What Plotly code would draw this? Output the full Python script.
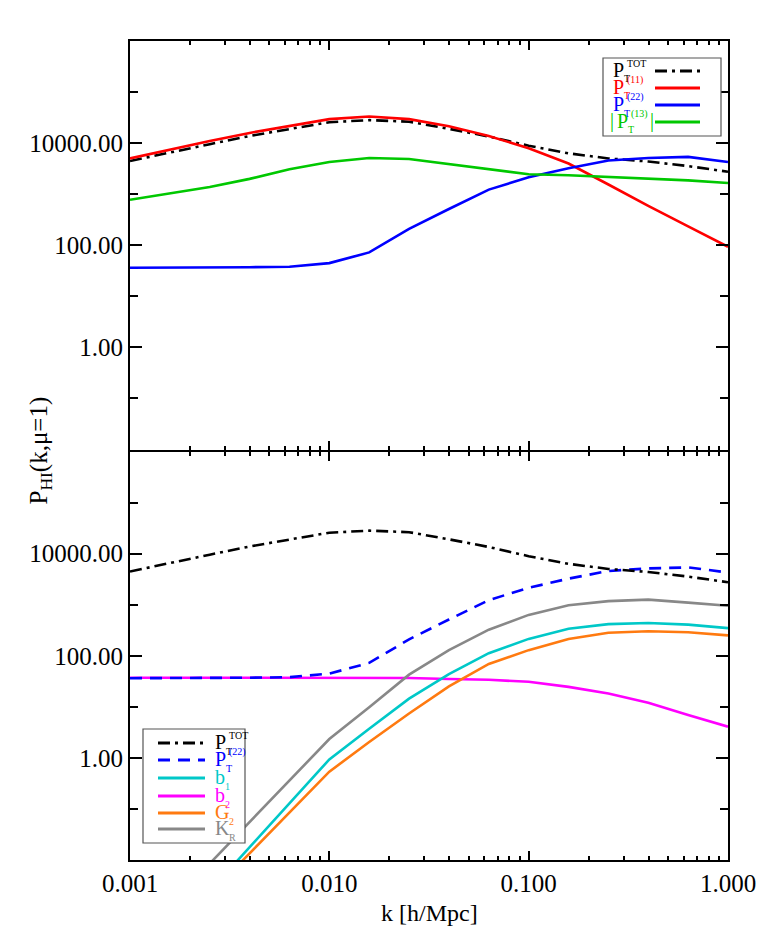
import plotly.graph_objects as go
from plotly.subplots import make_subplots

# ---- data (log10 values) ----
k = [0.001, 0.001585, 0.002512, 0.003981, 0.00631, 0.01, 0.01585, 0.02512,
     0.03981, 0.0631, 0.1, 0.1585, 0.2512, 0.3981, 0.631, 1.0]

log_p_tot = [3.65, 3.82, 3.98, 4.14, 4.28, 4.41, 4.45, 4.42, 4.28, 4.13, 3.95, 3.80, 3.70, 3.64, 3.55, 3.44]
log_p11 = [3.70, 3.875, 4.04, 4.20, 4.34, 4.47, 4.52, 4.47, 4.33, 4.14, 3.90, 3.60, 3.19, 2.77, 2.37, 1.97]
log_p22 = [1.56, 1.56, 1.56, 1.57, 1.58, 1.65, 1.86, 2.32, 2.71, 3.09, 3.33, 3.51, 3.66, 3.71, 3.73, 3.63]
log_p13 = [2.89, 3.01, 3.14, 3.30, 3.49, 3.63, 3.71, 3.69, 3.59, 3.48, 3.39, 3.37, 3.34, 3.30, 3.27, 3.22]

log_b1 = [None, None, -2.61, -1.75, -0.89, -0.03, 0.57, 1.16, 1.64, 2.05, 2.33, 2.53, 2.62, 2.64, 2.61, 2.54]
log_b2 = [1.57, 1.57, 1.57, 1.57, 1.57, 1.57, 1.57, 1.565, 1.545, 1.53, 1.49, 1.39, 1.26, 1.08, 0.84, 0.61]
log_g2 = [None, None, -2.67, -1.87, -1.07, -0.27, 0.31, 0.87, 1.40, 1.84, 2.11, 2.33, 2.45, 2.48, 2.46, 2.40]
log_kr = [None, None, -2.07, -1.25, -0.43, 0.37, 0.99, 1.63, 2.11, 2.51, 2.80, 2.99, 3.07, 3.10, 3.04, 2.98]

x_ticks = [0.001, 0.01, 0.1, 1.0]
x_ticktext = ["0.001", "0.010", "0.100", "1.000"]
y_ticks = [1.0, 100.0, 10000.0]
y_ticktext = ["1.00", "100.00", "10000.00"]
y_minor = [0.1, 10.0, 1000.0, 100000.0]
x_minor = [m * d for d in [0.001, 0.01, 0.1] for m in range(2, 10)]


def lin(vals):
    return [None if v is None else 10 ** v for v in vals]


BLACK = "#000000"
RED = "#ff0000"
BLUE = "#0000ff"
GREEN = "#00c800"
CYAN = "#00c8c8"
MAGENTA = "#ff00ff"
ORANGE = "#ff7a10"
GREY = "#888888"

DASHDOT = "12px,5px,3px,5px"
DASH = "12px,8px"
LW = 2.6

fig = make_subplots(rows=2, cols=1, shared_xaxes=True, vertical_spacing=0)

top = [
    (log_p_tot, BLACK, DASHDOT),
    (log_p11, RED, "solid"),
    (log_p22, BLUE, "solid"),
    (log_p13, GREEN, "solid"),
]
for vals, col, dash in top:
    fig.add_trace(go.Scatter(x=k, y=lin(vals), mode="lines",
                             line=dict(color=col, width=LW, dash=dash),
                             showlegend=False), row=1, col=1)

bottom = [
    (log_b2, MAGENTA, "solid"),
    (log_kr, GREY, "solid"),
    (log_b1, CYAN, "solid"),
    (log_g2, ORANGE, "solid"),
    (log_p22, BLUE, DASH),
    (log_p_tot, BLACK, DASHDOT),
]
for vals, col, dash in bottom:
    fig.add_trace(go.Scatter(x=k, y=lin(vals), mode="lines",
                             line=dict(color=col, width=LW, dash=dash),
                             showlegend=False, connectgaps=False), row=2, col=1)

FONT = "Liberation Serif"
xax = dict(type="log", range=[-3, 0], showline=True, linecolor="black", linewidth=2,
           mirror="ticks", ticks="inside", ticklen=9, tickwidth=2, tickcolor="black",
           tickvals=x_ticks, ticktext=x_ticktext, showgrid=False, zeroline=False,
           minor=dict(tickvals=x_minor, ticklen=4, tickwidth=2, tickcolor="black", ticks="inside", showgrid=False),
           tickfont=dict(family=FONT, size=25, color="black"))
yax = dict(type="log", range=[-2, 6], showline=True, linecolor="black", linewidth=2,
           mirror="ticks", ticks="inside", ticklen=12, tickwidth=2, tickcolor="black",
           tickvals=y_ticks, ticktext=y_ticktext, showgrid=False, zeroline=False,
           minor=dict(tickvals=y_minor, ticklen=8, tickwidth=2, tickcolor="black", ticks="inside", showgrid=False),
           tickfont=dict(family=FONT, size=25, color="black"))

W, H = 767, 944
L, R, T, B = 130, 39, 41, 84
PW, PH = W - L - R, H - T - B

fig.update_xaxes(**xax)
fig.update_xaxes(showticklabels=False, row=1, col=1)
fig.update_yaxes(**yax)
fig.update_yaxes(domain=[0.5 + 1.0 / PH, 1.0], row=1, col=1)
fig.update_yaxes(domain=[0.0, 0.5 - 1.0 / PH], row=2, col=1)


def px(x):
    return (x - L) / PW


def py(y):
    return (H - B - y) / PH


shapes = []
annotations = []

MAIN_FS = 20
SMALL_FS = 10


def add_text(x, y, txt, col, fs):
    annotations.append(dict(xref="paper", yref="paper", x=px(x), y=py(y),
                            xanchor="left", yanchor="middle", showarrow=False,
                            text=txt, font=dict(family=FONT, size=fs, color=col),
                            borderpad=0))


def legend(box, entries, line_x0, line_x1, text_x):
    x0, y0, x1, y1 = box
    shapes.append(dict(type="rect", xref="paper", yref="paper",
                       x0=px(x0), x1=px(x1), y0=py(y1), y1=py(y0),
                       line=dict(color="#555555", width=1.2), fillcolor="white", layer="above"))
    for yy, (prefix, main, mainw, sub, sup, supw, suffix), col, dash in entries:
        shapes.append(dict(type="line", xref="paper", yref="paper",
                           x0=px(line_x0), x1=px(line_x1), y0=py(yy), y1=py(yy),
                           line=dict(color=col, width=LW + 0.6, dash=dash), layer="above"))
        xx = text_x
        if prefix:
            add_text(xx - 3, yy - 1, prefix, col, MAIN_FS)
            xx += 4
        add_text(xx, yy - 1, main, col, MAIN_FS)
        xx += mainw
        if sup:
            add_text(xx + 1, yy - 8, sup, col, SMALL_FS)
        if sub:
            add_text(xx - 2, yy + 8, sub, col, SMALL_FS)
        if suffix:
            add_text(xx + supw, yy - 1, suffix, col, MAIN_FS)


legend((603, 58, 721, 136),
       [(71, ("", "P", 13, "T", "TOT", 22, ""), BLACK, DASHDOT),
        (88, ("", "P", 13, "T", "(11)", 20, ""), RED, "solid"),
        (105, ("", "P", 13, "T", "(22)", 20, ""), BLUE, "solid"),
        (122, ("|", "P", 13, "T", "(13)", 20, "|"), GREEN, "solid")],
       655, 700, 612)

legend((143, 729, 245, 843),
       [(743, ("", "P", 13, "T", "TOT", 22, ""), BLACK, DASHDOT),
        (760, ("", "P", 13, "T", "(22)", 20, ""), BLUE, DASH),
        (778, ("", "b", 12, "1", "", 0, ""), CYAN, "solid"),
        (796, ("", "b", 12, "2", "", 0, ""), MAGENTA, "solid"),
        (813, ("", "G", 16, "2", "", 0, ""), ORANGE, "solid"),
        (829, ("", "K", 16, "R", "", 0, ""), GREY, "solid")],
       158, 205, 214)

annotations.append(dict(xref="paper", yref="paper", x=px(40), y=0.5, xanchor="center", yanchor="middle",
                        textangle=-90, showarrow=False, text="P<sub>HI</sub>(k,μ=1)",
                        font=dict(family=FONT, size=25, color="black")))
annotations.append(dict(xref="paper", yref="paper", x=0.5, y=py(913), xanchor="center", yanchor="middle",
                        showarrow=False, text="k [h/Mpc]",
                        font=dict(family=FONT, size=24, color="black")))

fig.update_layout(width=W, height=H, margin=dict(l=L, r=R, t=T, b=B),
                  paper_bgcolor="white", plot_bgcolor="white",
                  shapes=shapes, annotations=annotations, showlegend=False,
                  font=dict(family=FONT, color="black"))

fig.write_html("out.html")
